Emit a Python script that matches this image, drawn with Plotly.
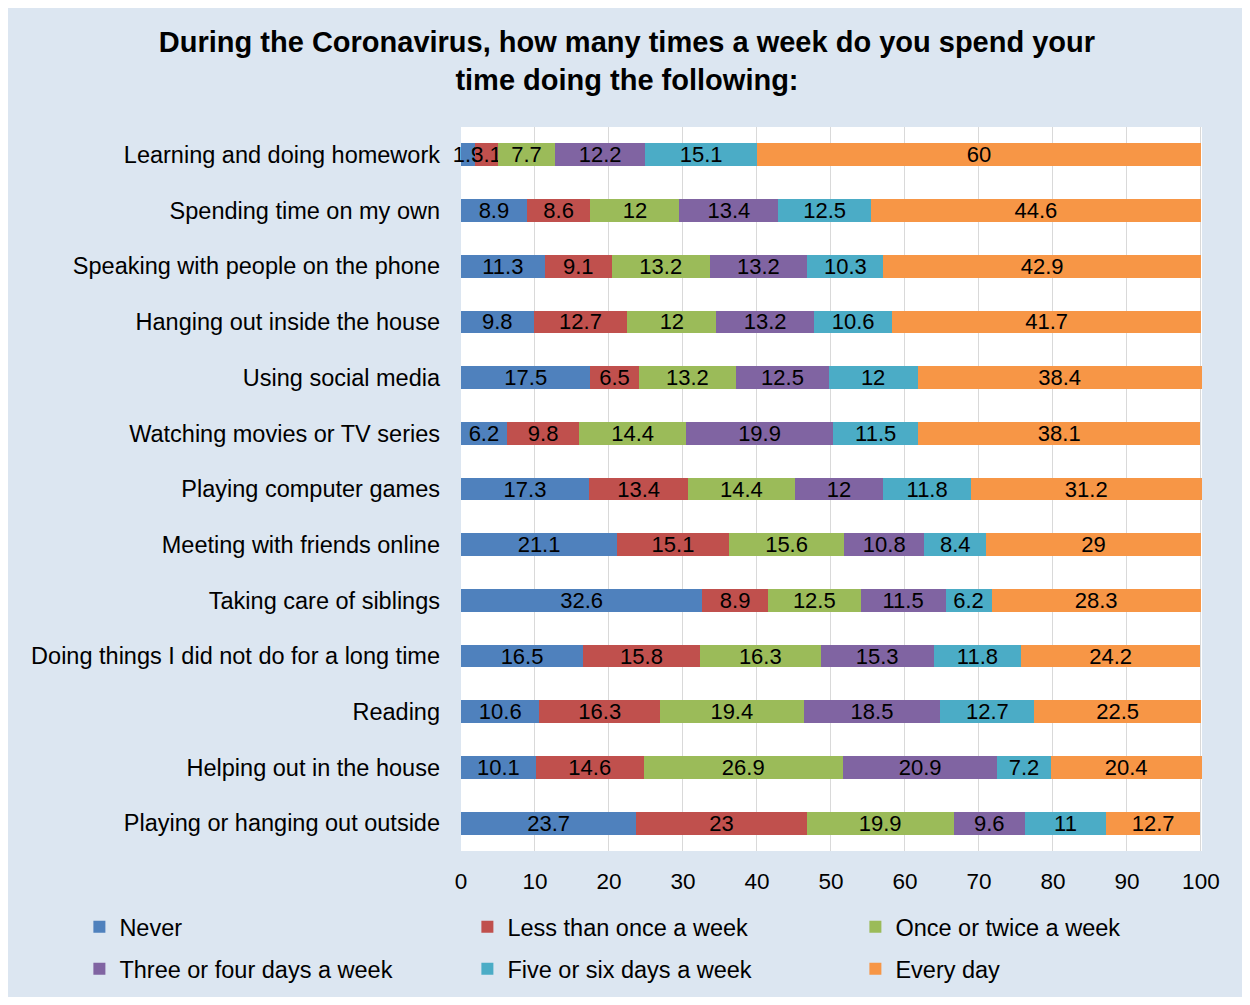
import plotly.graph_objects as go

categories = [
    "Learning and doing homework",
    "Spending time on my own",
    "Speaking with people on the phone",
    "Hanging out inside the house",
    "Using social media",
    "Watching movies or TV series",
    "Playing computer games",
    "Meeting with friends online",
    "Taking care of siblings",
    "Doing things I did not do for a long time",
    "Reading",
    "Helping out in the house",
    "Playing or hanging out outside",
]

never = [1.9, 8.9, 11.3, 9.8, 17.5, 6.2, 17.3, 21.1, 32.6, 16.5, 10.6, 10.1, 23.7]
less_than_once = [3.1, 8.6, 9.1, 12.7, 6.5, 9.8, 13.4, 15.1, 8.9, 15.8, 16.3, 14.6, 23]
once_twice = [7.7, 12, 13.2, 12, 13.2, 14.4, 14.4, 15.6, 12.5, 16.3, 19.4, 26.9, 19.9]
three_four = [12.2, 13.4, 13.2, 13.2, 12.5, 19.9, 12, 10.8, 11.5, 15.3, 18.5, 20.9, 9.6]
five_six = [15.1, 12.5, 10.3, 10.6, 12, 11.5, 11.8, 8.4, 6.2, 11.8, 12.7, 7.2, 11]
every_day = [60, 44.6, 42.9, 41.7, 38.4, 38.1, 31.2, 29, 28.3, 24.2, 22.5, 20.4, 12.7]

series_names = ["Never", "Less than once a week", "Once or twice a week",
                "Three or four days a week", "Five or six days a week", "Every day"]
series_values = [never, less_than_once, once_twice, three_four, five_six, every_day]
colors = ["#4F81BD", "#C0504D", "#9BBB59", "#8064A2", "#4BACC6", "#F79646"]
legend_ids = ["legend", "legend", "legend", "legend2", "legend2", "legend2"]

FONT = "Arial, Liberation Sans, sans-serif"

fig = go.Figure()
for name, vals, col, lg in zip(series_names, series_values, colors, legend_ids):
    fig.add_trace(go.Bar(
        y=categories, x=vals, name=name, orientation="h",
        marker=dict(color=col, line=dict(width=0)),
        text=[f"{v:g}" for v in vals],
        textposition="inside", insidetextanchor="middle",
        textangle=0, constraintext="none",
        textfont=dict(family=FONT, size=22, color="black"),
        cliponaxis=False,
        legend=lg,
    ))

legend_common = dict(
    orientation="h",
    xref="paper", yref="paper",
    x=-0.515, xanchor="left", yanchor="top",
    entrywidth=343, entrywidthmode="pixels",
    traceorder="normal",
    font=dict(family=FONT, size=23.5, color="black"),
    bgcolor="rgba(0,0,0,0)",
    itemwidth=30,
)

fig.update_layout(
    barmode="stack",
    bargap=0.59,
    width=1234, height=989,
    paper_bgcolor="#DCE6F1",
    plot_bgcolor="white",
    margin=dict(l=453, r=40, t=119, b=146, autoexpand=False),
    font=dict(family=FONT, size=22, color="black"),
    title=dict(
        text="<b>During the Coronavirus, how many times a week do you spend your<br>time doing the following:</b>",
        x=0.5016, xref="container", xanchor="center",
        y=0.9555, yref="container", yanchor="top",
        font=dict(family=FONT, size=29, color="black"),
    ),
    xaxis=dict(
        range=[0, 100.15], tickvals=[0, 10, 20, 30, 40, 50, 60, 70, 80, 90, 100],
        showgrid=True, gridcolor="#D9D9D9", gridwidth=1,
        zeroline=False, showline=False, ticks="",
        tickfont=dict(family=FONT, size=22.5, color="black"),
        ticklabelstandoff=14,
    ),
    yaxis=dict(
        categoryorder="array", categoryarray=categories,
        autorange="reversed",
        showgrid=False, zeroline=False, showline=False, ticks="",
        tickfont=dict(family=FONT, size=23.5, color="black"),
        ticklabelstandoff=20,
    ),
    legend=dict(y=-0.0746, **legend_common),
    legend2=dict(y=-0.1326, **legend_common),
)

fig.write_html("out.html")
